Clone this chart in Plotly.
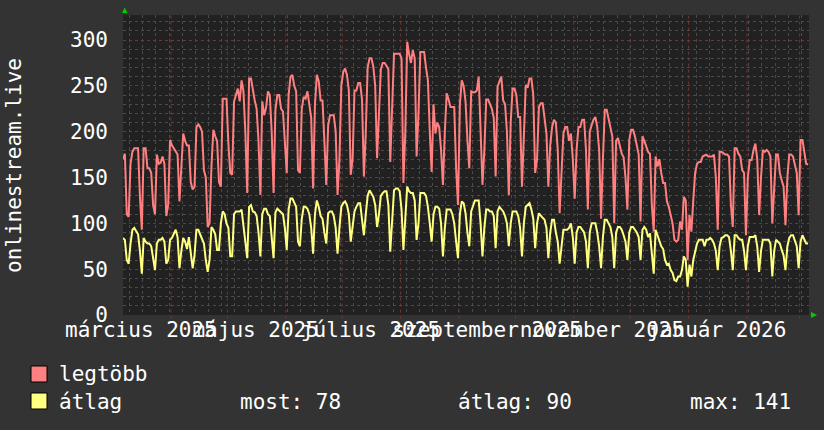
import pandas as pd
import plotly.graph_objects as go

# ---------------- data ----------------
start_date = "2025-03-06 12:00"
end_date = "2026-03-06 00:00"

legtobb = [
    170, 176, 110, 107, 165, 178, 182,
    182, 182, 129, 93, 182, 182, 160,
    160, 155, 120, 110, 175, 165, 166,
    173, 165, 108, 120, 191, 185, 182,
    178, 175, 124, 165, 198, 190, 185,
    185, 145, 137, 140, 205, 208, 205,
    200, 158, 150, 96, 100, 162, 202,
    195, 190, 145, 140, 236, 236, 236,
    187, 155, 153, 233, 240, 247, 233,
    256, 244, 200, 133, 258, 258, 245,
    234, 225, 190, 131, 233, 218, 226,
    244, 240, 200, 133, 224, 240, 240,
    225, 222, 190, 155, 240, 260, 262,
    250, 244, 158, 155, 225, 238, 236,
    244, 230, 215, 138, 230, 262, 255,
    234, 234, 190, 142, 207, 218, 218,
    218, 200, 131, 170, 250, 265, 269,
    262, 245, 153, 170, 245, 245, 253,
    253, 235, 151, 200, 270, 280, 280,
    271, 250, 171, 230, 268, 275, 275,
    272, 268, 167, 230, 285, 285, 285,
    285, 280, 144, 200, 298, 285, 275,
    289, 280, 173, 220, 287, 287, 287,
    270, 256, 200, 156, 230, 198, 210,
    205, 180, 142, 200, 242, 235, 227,
    227, 227, 160, 120, 230, 256, 250,
    233, 191, 160, 244, 243, 243, 245,
    260, 200, 142, 180, 235, 235, 230,
    225, 215, 151, 249, 255, 260, 234,
    230, 200, 131, 210, 247, 247, 240,
    216, 216, 140, 200, 251, 248, 258,
    258, 240, 155, 170, 227, 231, 231,
    216, 198, 140, 185, 205, 213, 210,
    180, 111, 150, 198, 205, 205, 190,
    198, 170, 127, 180, 205, 205, 213,
    213, 180, 115, 200, 207, 213, 216,
    205, 180, 105, 170, 224, 224, 215,
    205, 195, 100, 190, 193, 184, 176,
    172, 150, 115, 191, 202, 202, 195,
    184, 175, 102, 195, 190, 184, 178,
    176, 120, 91, 173, 162, 170, 155,
    144, 144, 124, 118, 110, 100, 82,
    80, 82, 102, 93, 129, 125, 60,
    109, 91, 125, 155, 165, 167, 167,
    173, 174, 175, 173, 173, 173, 175,
    150, 93, 178, 178, 176, 175, 175,
    173, 120, 96, 182, 182, 176, 173,
    158, 155, 87, 150, 169, 169, 180,
    187, 170, 109, 150, 180, 178, 180,
    178, 173, 100, 140, 175, 175, 155,
    147, 140, 98, 150, 175, 175, 173,
    162, 155, 109, 191, 191, 175, 165,
    164,
]

atlag = [
    84, 82, 60, 56, 78, 93, 95,
    92, 88, 70, 45, 84, 80, 78,
    78, 75, 60, 49, 78, 82, 82,
    84, 80, 56, 60, 82, 84, 88,
    93, 85, 51, 70, 84, 80, 72,
    85, 70, 51, 65, 93, 93, 88,
    82, 78, 60, 47, 60, 96, 93,
    88, 71, 71, 100, 113, 110, 100,
    95, 64, 64, 110, 113, 113, 113,
    115, 100, 80, 62, 118, 120, 113,
    112, 108, 90, 64, 110, 116, 116,
    110, 108, 85, 62, 112, 116, 114,
    112, 110, 95, 71, 115, 127, 127,
    122, 118, 80, 75, 105, 118, 118,
    116, 110, 95, 67, 110, 125, 118,
    108, 105, 90, 78, 111, 113, 113,
    108, 95, 67, 95, 118, 122, 124,
    120, 110, 80, 100, 113, 118, 122,
    122, 105, 87, 110, 130, 136, 132,
    129, 120, 96, 110, 130, 133, 135,
    135, 120, 69, 100, 136, 138, 138,
    135, 115, 71, 100, 140, 135, 133,
    133, 125, 82, 100, 133, 133, 133,
    130, 118, 100, 80, 110, 118, 118,
    116, 100, 64, 95, 115, 115, 115,
    110, 100, 80, 62, 110, 124, 122,
    111, 90, 75, 113, 118, 125, 125,
    125, 100, 64, 95, 115, 115, 113,
    113, 108, 73, 113, 118, 115, 113,
    108, 100, 75, 100, 113, 113, 113,
    108, 95, 64, 100, 118, 120, 122,
    115, 105, 73, 100, 111, 108, 106,
    104, 95, 62, 90, 104, 104, 90,
    80, 56, 75, 93, 93, 93, 95,
    100, 85, 56, 90, 96, 96, 93,
    90, 80, 51, 90, 100, 100, 100,
    90, 75, 51, 85, 104, 104, 100,
    96, 85, 51, 90, 96, 96, 93,
    87, 80, 60, 90, 96, 96, 93,
    90, 85, 60, 93, 96, 93, 85,
    89, 70, 45, 93, 87, 82, 75,
    72, 60, 55, 56, 49, 46, 38,
    37, 42, 42, 49, 64, 60, 31,
    55, 42, 60, 71, 78, 82, 82,
    82, 75, 82, 82, 84, 82, 78,
    70, 49, 75, 84, 85, 87, 87,
    85, 70, 49, 87, 87, 84, 82,
    82, 70, 49, 75, 85, 85, 85,
    87, 75, 47, 70, 82, 82, 82,
    82, 78, 42, 70, 82, 80, 78,
    71, 65, 49, 75, 84, 87, 87,
    82, 75, 51, 80, 87, 82, 78,
    78,
]

month_label_dates = ["2025-03-16", "2025-05-16", "2025-07-16",
                     "2025-09-16", "2025-11-16", "2026-01-16"]
month_labels = ["március 2025", "május 2025", "július 2025",
                "szeptember 2025", "november 2025", "január 2026"]
month_start_dates = pd.date_range("2025-04-01", "2026-03-01", freq="MS")
y_tick_vals = [0, 50, 100, 150, 200, 250, 300]

series_names = ["legtöbb", "átlag"]
stat_labels = ["most: 78", "átlag: 90", "max: 141"]
axis_title = "onlinestream.live"

# ---------------- styling ----------------
W, H = 824, 430
L, R, T, B = 123, 15, 15, 115
PW, PH = W - L - R, H - T - B
BG = "#333333"
PLOT_BG = "#212121"
RED = "#ff8080"
YEL = "#ffff80"
MINOR = "#4a4a4a"
MAJOR = "#6e3636"
FONT = "DejaVu Sans Mono"
FS = 21


def px(xp):
    return (xp - L) / PW


def py(yp):
    return (H - B - yp) / PH


days = pd.date_range(start_date, periods=len(legtobb), freq="D")

fig = go.Figure()
fig.add_trace(go.Scatter(x=days, y=legtobb, mode="lines", name=series_names[0],
                         line=dict(color=RED, width=2), hoverinfo="skip"))
fig.add_trace(go.Scatter(x=days, y=atlag, mode="lines", name=series_names[1],
                         line=dict(color=YEL, width=2), hoverinfo="skip"))

shapes = []
for d in month_start_dates:
    shapes.append(dict(type="line", xref="x", yref="paper", x0=d, x1=d, y0=-0.012, y1=1,
                       line=dict(color=MAJOR, width=1, dash="dot"), layer="below"))

# green arrows
shapes.append(dict(type="path", xref="paper", yref="paper",
                   path=f"M {px(122)} {py(13)} L {px(127.5)} {py(13)} L {px(124.7)} {py(7.5)} Z",
                   fillcolor="#00cc00", line=dict(width=0)))
shapes.append(dict(type="path", xref="paper", yref="paper",
                   path=f"M {px(811)} {py(312)} L {px(811)} {py(318)} L {px(817)} {py(315)} Z",
                   fillcolor="#00cc00", line=dict(width=0)))

# legend squares
for color, ytop in [(RED, 366), (YEL, 393)]:
    shapes.append(dict(type="rect", xref="paper", yref="paper",
                       x0=px(31), x1=px(47), y0=py(ytop + 16), y1=py(ytop),
                       fillcolor=color, line=dict(color="#000000", width=1)))

annotations = [
    dict(text=axis_title, xref="paper", yref="paper", x=px(14), y=py(166),
         textangle=-90, showarrow=False, xanchor="center", yanchor="middle",
         font=dict(family=FONT, size=FS, color="#ffffff")),
    dict(text=series_names[0], xref="paper", yref="paper", x=px(57), y=py(374),
         showarrow=False, xanchor="left", yanchor="middle",
         font=dict(family=FONT, size=FS, color="#ffffff")),
    dict(text=series_names[1], xref="paper", yref="paper", x=px(57), y=py(402),
         showarrow=False, xanchor="left", yanchor="middle",
         font=dict(family=FONT, size=FS, color="#ffffff")),
]
for lab, xleft in zip(stat_labels, [238, 456, 688]):
    annotations.append(dict(text=lab, xref="paper", yref="paper", x=px(xleft), y=py(402),
                            showarrow=False, xanchor="left", yanchor="middle",
                            font=dict(family=FONT, size=FS, color="#ffffff")))

fig.update_layout(
    width=W, height=H,
    margin=dict(l=L, r=R, t=T, b=B, pad=0, autoexpand=False),
    paper_bgcolor=BG, plot_bgcolor=PLOT_BG,
    showlegend=False,
    font=dict(family=FONT, size=FS, color="#ffffff"),
    shapes=shapes, annotations=annotations,
    xaxis=dict(
        type="date", range=[start_date, end_date],
        tickmode="array", tickvals=month_label_dates, ticktext=month_labels,
        tickangle=0, automargin=False,
        showgrid=False, zeroline=False, showline=False, ticks="",
        tickfont=dict(family=FONT, size=FS, color="#ffffff"),
        minor=dict(tickmode="linear", tick0="2025-03-10", dtick=7 * 86400000,
                   showgrid=True, gridcolor=MINOR, griddash="dot", gridwidth=1),
        fixedrange=True,
    ),
    yaxis=dict(
        range=[0, 327.3], tickmode="array", tickvals=y_tick_vals,
        automargin=False,
        showgrid=True, gridcolor=MAJOR, griddash="dot", gridwidth=1,
        zeroline=False, showline=False, ticks="",
        ticklabelstandoff=14,
        tickfont=dict(family=FONT, size=FS, color="#ffffff"),
        minor=dict(tickmode="linear", tick0=0, dtick=10, showgrid=True,
                   gridcolor=MINOR, griddash="dot", gridwidth=1),
        fixedrange=True,
    ),
)

fig.write_html(
    "out.html",
    config={"displayModeBar": False},
    post_script="document.body.style.margin='0';document.body.style.padding='0';"
                "document.body.style.background='#333333';",
)
